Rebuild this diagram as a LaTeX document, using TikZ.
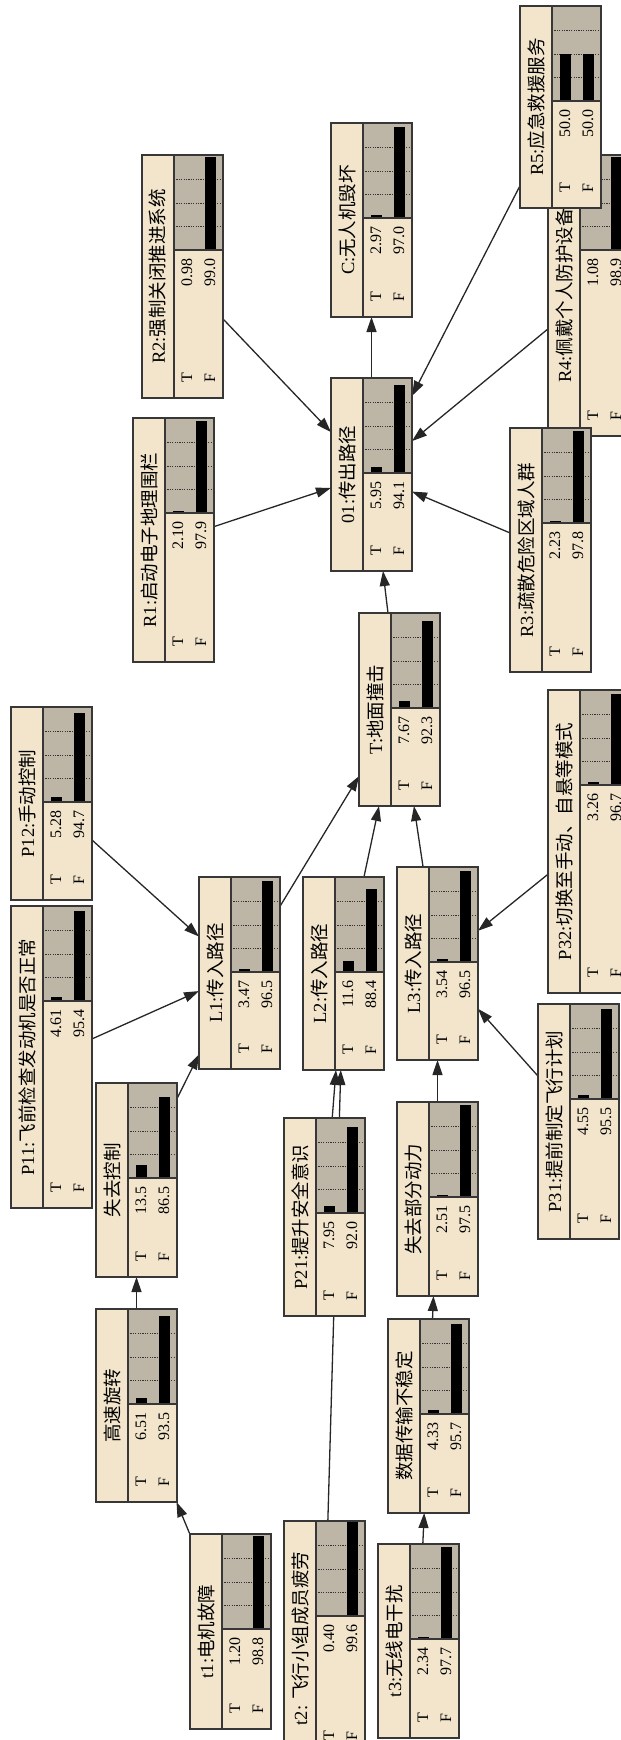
\documentclass[tikz,border=0pt]{standalone}
\usepackage{fontspec}
\setmainfont{Liberation Serif}
\newfontfamily\cjk{Noto Sans CJK SC}
\usetikzlibrary{arrows.meta,fit}
\pgfdeclarelayer{bg}
\pgfsetlayers{bg,main}
\definecolor{nfill}{RGB}{242,229,203}
\definecolor{ngray}{RGB}{189,181,165}
\definecolor{nline}{RGB}{55,55,55}
\tikzset{
  bnbox/.style={draw=nline, line width=1.4pt, fill=nfill, inner sep=0pt, outer sep=0pt, rectangle},
  edge/.style={draw=black!85, line width=1.3pt, -{Triangle[length=15pt,width=10pt]}},
  ttl/.style={rotate=90, font=\fontsize{18.5}{18.5}\selectfont, inner sep=0pt},
  val/.style={rotate=90, font=\fontsize{16}{16}\selectfont, inner sep=0pt},
  gridl/.style={line width=0.9pt, dash pattern=on 1.2pt off 1.2pt, black!80},
  divl/.style={draw=nline, line width=1.2pt},
}
% name, left, top, right, bottom, title, T value, F value
\newcommand{\bn}[8]{%
  \node[bnbox, fit={(#2,#3) (#4,#5)}] (#1) {};
  \pgfmathsetmacro\dvx{#2+32}
  \pgfmathsetmacro\bbt{#3+95}
  \pgfmathsetmacro\hT{#7*0.94}
  \pgfmathsetmacro\hF{#8*0.94}
  \fill[ngray] (\dvx,#3) rectangle (#4,\bbt);
  \foreach \q in {23.5,47,70.5} {\draw[gridl] (\dvx,\bbt-\q) -- (#4,\bbt-\q);}
  \fill[black] (\dvx+8,\bbt) rectangle (\dvx+19,\bbt-\hT);
  \fill[black] (\dvx+31,\bbt) rectangle (\dvx+42,\bbt-\hF);
  \draw[divl] (\dvx,#3) -- (\dvx,#5);
  \draw[divl] (\dvx,\bbt) -- (#4,\bbt);
  \draw[draw=nline, line width=1.4pt] (#1.north west) rectangle (#1.south east);
  \node[ttl] at (#2+16,{(#3+#5)/2}) {#6};
  \node[val] at (\dvx+13,#5-20) {T};
  \node[val] at (\dvx+36,#5-20) {F};
  \node[val, anchor=east] at (\dvx+13,\bbt+8) {#7};
  \node[val, anchor=east] at (\dvx+36,\bbt+8) {#8};
}
\begin{document}
\begin{tikzpicture}[x=1pt,y=-1pt]
\useasboundingbox (0,0) rectangle (621,1740);
\clip (0,0) rectangle (621,1740);

\bn{R4}{548}{155}{629}{436}{R4:{\cjk 佩戴个人防护设备}}{1.08}{98.9}
\bn{R3}{510}{428}{591}{672}{R3:{\cjk 疏散危险区域人群}}{2.23}{97.8}
\bn{R5}{520}{6}{601}{208}{R5:{\cjk 应急救援服务}}{50.0}{50.0}
\bn{R2}{142}{155}{223}{398}{R2:{\cjk 强制关闭推进系统}}{0.98}{99.0}
\bn{C}{331}{123}{412}{317}{C:{\cjk 无人机毁坏}}{2.97}{97.0}
\bn{R1}{133}{418}{214}{662}{R1:{\cjk 启动电子地理围栏}}{2.10}{97.9}
\bn{O1}{331}{378}{412}{571}{01:{\cjk 传出路径}}{5.95}{94.1}
\bn{TT}{359}{613}{440}{806}{T:{\cjk 地面撞击}}{7.67}{92.3}
\bn{P12}{11}{707}{92}{900}{P12:{\cjk 手动控制}}{5.28}{94.7}
\bn{P11}{11}{906}{92}{1208}{P11:{\cjk 飞前检查发动机是否正常}}{4.61}{95.4}
\bn{L1}{199}{877}{280}{1069}{L1:{\cjk 传入路径}}{3.47}{96.5}
\bn{L2}{303}{877}{384}{1070}{L2:{\cjk 传入路径}}{11.6}{88.4}
\bn{L3}{397}{867}{478}{1060}{L3:{\cjk 传入路径}}{3.54}{96.5}
\bn{P32}{548}{690}{629}{993}{P32:{\cjk 切换至手动、自悬等模式}}{3.26}{96.7}
\bn{P31}{538}{1004}{619}{1239}{P31:{\cjk 提前制定飞行计划}}{4.55}{95.5}
\bn{LC}{96}{1083}{177}{1277}{{\cjk 失去控制}}{13.5}{86.5}
\bn{P21}{284}{1118}{365}{1316}{P21:{\cjk 提升安全意识}}{7.95}{92.0}
\bn{LP}{397}{1102}{478}{1296}{{\cjk 失去部分动力}}{2.51}{97.5}
\bn{HS}{96}{1309}{177}{1502}{{\cjk 高速旋转}}{6.51}{93.5}
\bn{DT}{388}{1319}{469}{1513}{{\cjk 数据传输不稳定}}{4.33}{95.7}
\bn{t1}{190}{1534}{271}{1729}{t1:{\cjk 电机故障}}{1.20}{98.8}
\bn{t2}{284}{1521}{365}{1756}{t2: {\cjk 飞行小组成员疲劳}}{0.40}{99.6}
\bn{t3}{378}{1544}{459}{1738}{t3:{\cjk 无线电干扰}}{2.34}{97.7}

\begin{pgfonlayer}{bg}
\draw[edge] (O1) -- (C);
\draw[edge] (R2) -- (O1);
\draw[edge] (R1) -- (O1);
\draw[edge] (R5) -- (O1);
\draw[edge] (R4) -- (O1);
\draw[edge] (R3) -- (O1);
\draw[edge] (TT) -- (O1);
\draw[edge] (L1) -- (TT);
\draw[edge] (L2) -- (TT);
\draw[edge] (L3) -- (TT);
\draw[edge] (P12) -- (L1);
\draw[edge] (P11) -- (L1);
\draw[edge] (LC) -- (L1);
\draw[edge] (P21) -- (L2);
\draw[edge] (t2) -- (L2);
\draw[edge] (LP) -- (L3);
\draw[edge] (P32) -- (L3);
\draw[edge] (P31) -- (L3);
\draw[edge] (HS) -- (LC);
\draw[edge] (t1) -- (HS);
\draw[edge] (DT) -- (LP);
\draw[edge] (t3) -- (DT);
\end{pgfonlayer}
\end{tikzpicture}
\end{document}
